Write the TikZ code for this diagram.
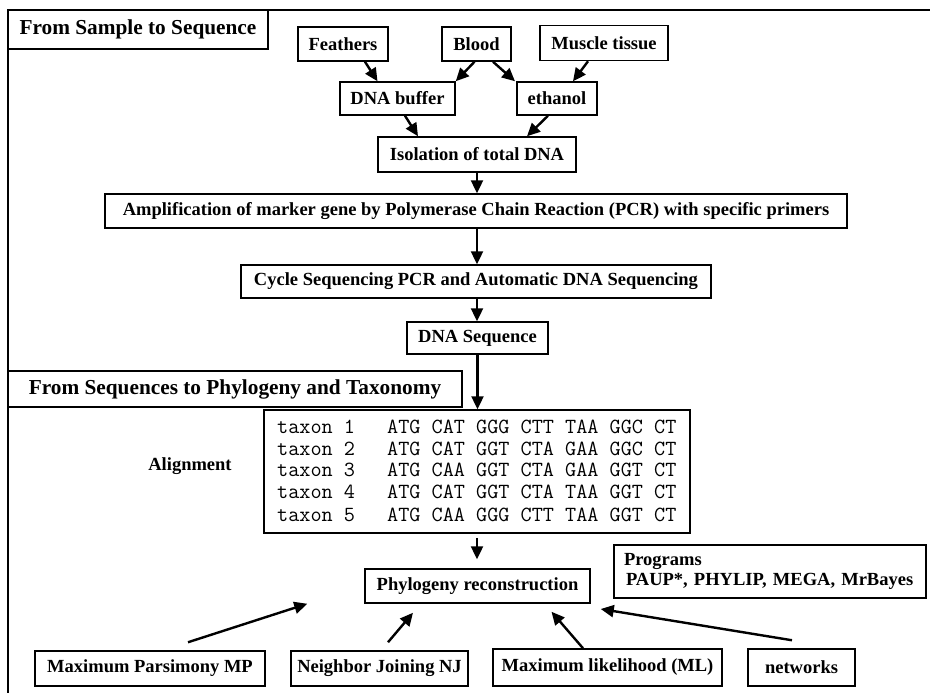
\documentclass[tikz,border=0pt]{standalone}
\usepackage{fontspec}
\setmainfont{Liberation Serif}
\usetikzlibrary{arrows.meta}
\begin{document}
\begin{tikzpicture}[x=1pt,y=-1pt,
  box/.style={draw=black, line width=1.5pt, inner sep=0pt, anchor=center,
    font=\bfseries\fontsize{18.5}{22}\selectfont},
  hdr/.style={box, font=\bfseries\fontsize{21.3}{25}\selectfont},
  lbl/.style={inner sep=0pt, font=\bfseries\fontsize{18.5}{22}\selectfont},
  mono/.style={inner sep=0pt, anchor=base west, font=\ttfamily\fontsize{21.6}{22}\selectfont},
  arr/.style={line width=2.4pt, -{Triangle[length=13pt,width=12pt]}},
]
\useasboundingbox (0,0) rectangle (930,693);
% outer frame
\draw[line width=1.5pt] (8,693) -- (8,10) -- (930,10);

% headers
\node[hdr, minimum width=260pt, minimum height=39pt] (hdr1) at (138,29.5) {From Sample to Sequence};
\node[hdr, minimum width=454pt, minimum height=36pt] (hdr2) at (235,389) {From Sequences to Phylogeny and Taxonomy};

% sample part
\node[box, minimum width=90pt, minimum height=34pt] (feathers) at (343,44) {Feathers};
\node[box, minimum width=69pt, minimum height=34pt] (blood) at (476.5,44) {Blood};
\node[box, minimum width=128pt, minimum height=35pt] (muscle) at (604,43) {Muscle tissue};
\node[box, minimum width=115pt, minimum height=33pt] (buffer) at (397.5,98.5) {DNA buffer};
\node[box, minimum width=80pt, minimum height=33pt] (ethanol) at (557,98.5) {ethanol};
\node[box, minimum width=198pt, minimum height=35pt] (isolation) at (477,154.5) {Isolation of total DNA};
\node[box, minimum width=742pt, minimum height=34pt] (amp) at (476,211) {Amplification of marker gene by Polymerase Chain Reaction (PCR) with specific primers};
\node[box, minimum width=470pt, minimum height=33pt] (cycle) at (476,281.5) {Cycle Sequencing PCR and Automatic DNA Sequencing};
\node[box, minimum width=141pt, minimum height=32pt] (dnaseq) at (477.5,338) {DNA Sequence};

% alignment
\node[box, minimum width=426pt, minimum height=123pt] (align) at (477,471.5) {};
\node[lbl] (alab) at (190,466) {Alignment};
\node[mono] (t1) at (277,433) {\makebox[110pt][l]{taxon 1}ATG CAT GGG CTT TAA GGC CT};
\node[mono] (t2) at (277,455) {\makebox[110pt][l]{taxon 2}ATG CAT GGT CTA GAA GGC CT};
\node[mono] (t3) at (277,476.5) {\makebox[110pt][l]{taxon 3}ATG CAA GGT CTA GAA GGT CT};
\node[mono] (t4) at (277,498) {\makebox[110pt][l]{taxon 4}ATG CAT GGT CTA TAA GGT CT};
\node[mono] (t5) at (277,521) {\makebox[110pt][l]{taxon 5}ATG CAA GGG CTT TAA GGT CT};

% phylogeny
\node[box, minimum width=225pt, minimum height=34pt] (phylo) at (477.5,586) {Phylogeny reconstruction};
\node[box, minimum width=312pt, minimum height=53pt, text width=292pt, align=left,
  font=\bfseries\fontsize{18.5}{20.5}\selectfont] (programs) at (770,571.5)
  {Programs\\\hspace*{2pt}PAUP*, PHYLIP, MEGA, MrBayes};
\node[box, minimum width=230pt, minimum height=35pt] (mp) at (150,668.5) {Maximum Parsimony MP};
\node[box, minimum width=177pt, minimum height=35pt] (nj) at (379.5,668.5) {Neighbor Joining NJ};
\node[box, minimum width=229pt, minimum height=37pt] (ml) at (607.5,667.5) {Maximum likelihood (ML)};
\node[box, minimum width=107pt, minimum height=37pt] (networks) at (801.5,667.5) {networks};

% arrows top
\draw[arr] ([xshift=22pt]feathers.south) -- ([xshift=-20pt]buffer.north);
\draw[arr] ([xshift=-2pt]blood.south) -- (buffer.north east);
\draw[arr] ([xshift=16.5pt]blood.south) -- ([xshift=-42pt]ethanol.north);
\draw[arr] ([xshift=-16pt]muscle.south) -- ([xshift=16pt]ethanol.north);
\draw[arr] ([xshift=7.5pt]buffer.south) -- ([xshift=-59pt]isolation.north);
\draw[arr] ([xshift=-9pt]ethanol.south) -- ([xshift=50pt]isolation.north);
\draw[arr] (isolation.south) -- (isolation.south |- amp.north);
\draw[arr] ([xshift=1pt]amp.south) -- ([xshift=1pt]amp.south |- cycle.north);
\draw[arr] ([xshift=1pt]cycle.south) -- ([xshift=1pt]cycle.south |- dnaseq.north);
\draw[arr] (dnaseq.south) -- (dnaseq.south |- align.north);
\draw[arr, shorten <=4pt, shorten >=9pt] (align.south) -- (align.south |- phylo.north);

% arrows bottom
\draw[arr] ([xshift=38pt,yshift=8pt]mp.north) -- ([xshift=-57pt]phylo.south west);
\draw[arr] ([xshift=8.5pt,yshift=8pt]nj.north) -- ([xshift=-64.5pt,yshift=-9pt]phylo.south);
\draw[arr] ([xshift=-24.5pt]ml.north) -- ([xshift=74pt,yshift=-8pt]phylo.south);
\draw[arr] ([xshift=-9.5pt,yshift=8pt]networks.north) -- ([xshift=10pt,yshift=-23pt]phylo.east);
\end{tikzpicture}
\end{document}
